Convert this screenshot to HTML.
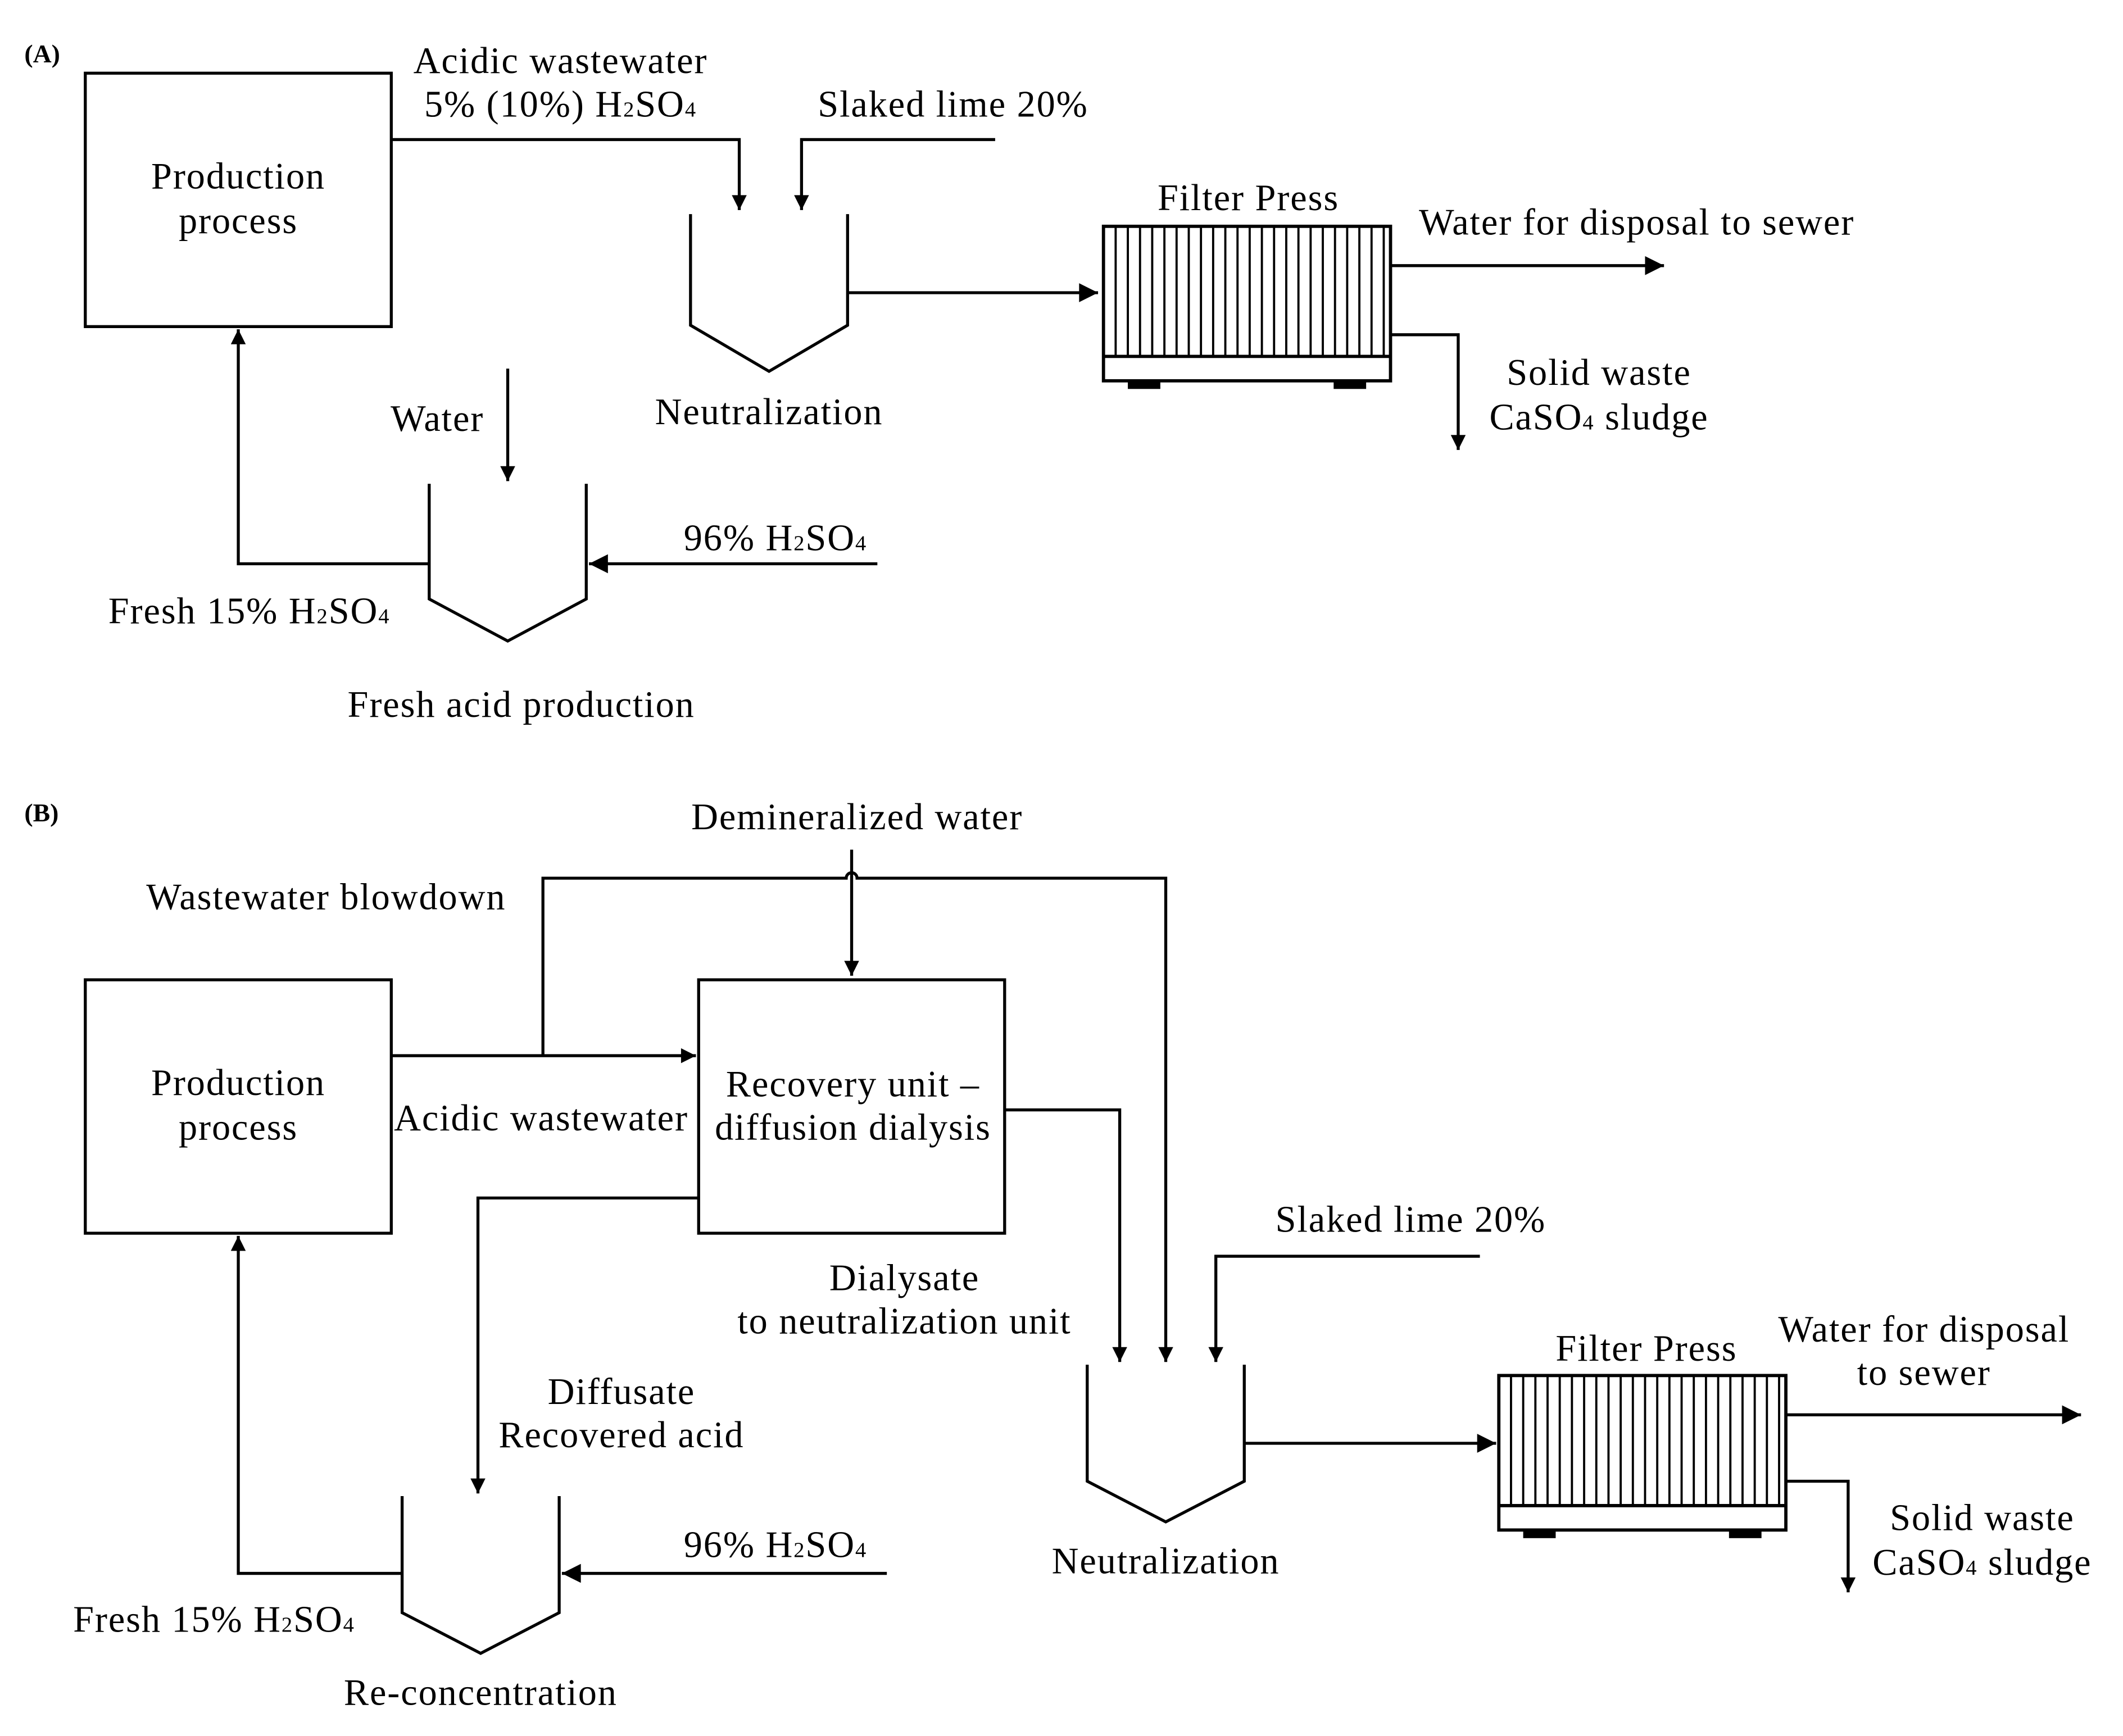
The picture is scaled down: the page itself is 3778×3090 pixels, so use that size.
<!DOCTYPE html>
<html><head><meta charset="utf-8"><style>
html,body{margin:0;padding:0;background:#fff}
svg{display:block}
text{font-family:"Liberation Serif",serif;font-size:27.5px;letter-spacing:0.8px;fill:#000}
.b{font-weight:bold;font-size:19px;letter-spacing:0}
</style></head><body>
<svg width="3778" height="3090" viewBox="0 0 1568 1281" preserveAspectRatio="none" xmlns="http://www.w3.org/2000/svg">
<defs>
<marker id="a" viewBox="0 0 10 10" refX="10" refY="5" markerWidth="20" markerHeight="11" markerUnits="userSpaceOnUse" orient="auto"><path d="M0,0 L10,5 L0,10 z" fill="#000"/></marker>
<marker id="A" viewBox="0 0 10 10" refX="10" refY="5" markerWidth="20" markerHeight="14" markerUnits="userSpaceOnUse" orient="auto"><path d="M0,0 L10,5 L0,10 z" fill="#000"/></marker>
<g id="fp">
<rect x="0" y="0" width="212" height="114" fill="#fff" stroke="#000" stroke-width="2.4"/>
<line x1="0" y1="96" x2="212" y2="96" stroke="#000" stroke-width="2.4"/>
<path d="M9,0V96M18,0V96M27,0V96M36,0V96M45,0V96M54,0V96M63,0V96M72,0V96M81,0V96M90,0V96M99,0V96M108,0V96M117,0V96M126,0V96M135,0V96M144,0V96M153,0V96M162,0V96M171,0V96M180,0V96M189,0V96M198,0V96M207,0V96" stroke="#000" stroke-width="1.6"/>
<rect x="18" y="114" width="24" height="6" fill="#000"/>
<rect x="170" y="114" width="24" height="6" fill="#000"/>
</g>
</defs>
<g fill="none" stroke="#000" stroke-width="2.2">
<rect x="63" y="54" width="226" height="187"/>
<path d="M289,103H546V155" marker-end="url(#a)"/>
<path d="M735,103H592V155" marker-end="url(#a)"/>
<path d="M510,158V240L568,274L626,240V158"/>
<path d="M626,216H811" marker-end="url(#A)"/>
<path d="M1027,196H1229" marker-end="url(#A)"/>
<path d="M1027,247H1077V332" marker-end="url(#a)"/>
<path d="M317,357V442L375,473L433,442V357"/>
<path d="M375,272V355" marker-end="url(#a)"/>
<path d="M648,416H435" marker-end="url(#A)"/>
<path d="M317,416H176V243" marker-end="url(#a)"/>
<rect x="63" y="723" width="226" height="187"/>
<rect x="516" y="723" width="226" height="187"/>
<path d="M289,779H514" marker-end="url(#a)"/>
<path d="M401,779V648H625a4,4 0 0 1 8,0H861V1005" marker-end="url(#a)"/>
<path d="M629,627V720" marker-end="url(#a)"/>
<path d="M742,819H827V1005" marker-end="url(#a)"/>
<path d="M1093,927H898V1005" marker-end="url(#a)"/>
<path d="M516,884H353V1102" marker-end="url(#a)"/>
<path d="M803,1007V1093L861,1123L919,1093V1007"/>
<path d="M919,1065H1105" marker-end="url(#A)"/>
<path d="M1320,1044H1537" marker-end="url(#A)"/>
<path d="M1320,1093H1365V1175" marker-end="url(#a)"/>
<path d="M297,1104V1190L355,1220L413,1190V1104"/>
<path d="M655,1161H415" marker-end="url(#A)"/>
<path d="M297,1161H176V912" marker-end="url(#a)"/>
</g>
<use href="#fp" x="815" y="167"/>
<use href="#fp" x="1107" y="1015"/>
<text class="b" x="18" y="46">(A)</text>
<text class="b" x="18" y="606">(B)</text>
<g text-anchor="middle">
<text x="176" y="139">Production</text>
<text x="176" y="172">process</text>
<text x="414" y="54">Acidic wastewater</text>
<text x="414" y="86">5% (10%) H<tspan font-size="16">2</tspan>SO<tspan font-size="16">4</tspan></text>
<text x="568" y="313">Neutralization</text>
<text x="922" y="155">Filter Press</text>
<text x="1181" y="284">Solid waste</text>
<text x="1181" y="317">CaSO<tspan font-size="16">4</tspan> sludge</text>
<text x="323" y="318">Water</text>
<text x="385" y="529">Fresh acid production</text>
<text x="176" y="808">Production</text>
<text x="176" y="841">process</text>
<text x="630" y="809">Recovery unit –</text>
<text x="630" y="841">diffusion dialysis</text>
<text x="633" y="612">Demineralized water</text>
<text x="668" y="952">Dialysate</text>
<text x="668" y="984">to neutralization unit</text>
<text x="459" y="1036">Diffusate</text>
<text x="459" y="1068">Recovered acid</text>
<text x="861" y="1161">Neutralization</text>
<text x="1216" y="1004">Filter Press</text>
<text x="1421" y="990">Water for disposal</text>
<text x="1421" y="1022">to sewer</text>
<text x="1464" y="1129">Solid waste</text>
<text x="1464" y="1162">CaSO<tspan font-size="16">4</tspan> sludge</text>
<text x="355" y="1258">Re-concentration</text>
</g>
<text x="604" y="86">Slaked lime 20%</text>
<text x="1048" y="173">Water for disposal to sewer</text>
<text x="505" y="406">96% H<tspan font-size="16">2</tspan>SO<tspan font-size="16">4</tspan></text>
<text x="80" y="460">Fresh 15% H<tspan font-size="16">2</tspan>SO<tspan font-size="16">4</tspan></text>
<text x="108" y="671">Wastewater blowdown</text>
<text x="291" y="834">Acidic wastewater</text>
<text x="942" y="909">Slaked lime 20%</text>
<text x="505" y="1149">96% H<tspan font-size="16">2</tspan>SO<tspan font-size="16">4</tspan></text>
<text x="54" y="1204">Fresh 15% H<tspan font-size="16">2</tspan>SO<tspan font-size="16">4</tspan></text>
</svg>
</body></html>
